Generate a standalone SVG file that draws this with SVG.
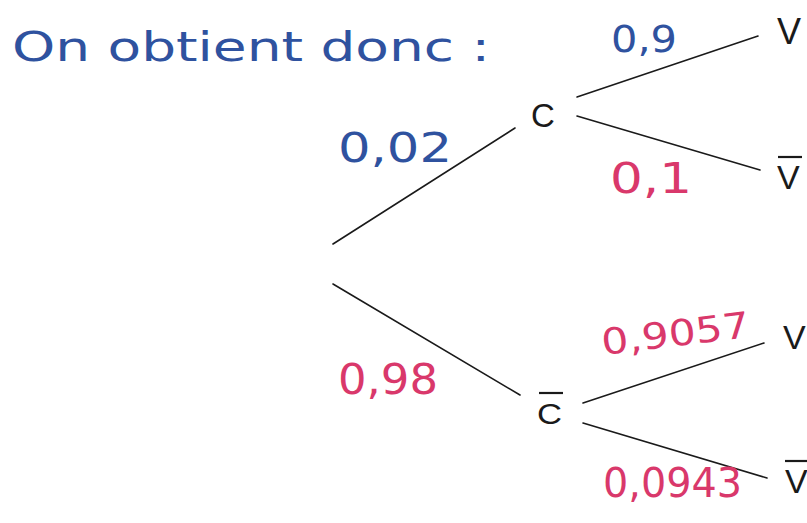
<svg xmlns="http://www.w3.org/2000/svg" width="807" height="523" viewBox="0 0 807 523">
<style>
.bg{fill:#ffffff}
.edge{stroke:#1a1a1a;stroke-width:1.6;fill:none;stroke-linecap:round}
.bar{stroke:#1a1a1a;stroke-width:2.2}
.node{font-family:"Liberation Sans",Arial,sans-serif;fill:#1a1a1a}
.hand{font-family:"DejaVu Sans","Liberation Sans",sans-serif;font-weight:normal}
.blue{fill:#2f529f}
.pink{fill:#d9386b}
</style>
<rect class="bg" x="0" y="0" width="807" height="523"/>
<text id="title" class="hand blue" x="12" y="61" font-size="40" textLength="478" lengthAdjust="spacingAndGlyphs">On obtient donc :</text>
<g id="connectors">
  <line class="edge" x1="333" y1="244" x2="515" y2="128"/>
  <line class="edge" x1="333" y1="284" x2="520" y2="395"/>
  <line class="edge" x1="577" y1="97" x2="758" y2="36"/>
  <line class="edge" x1="577" y1="116" x2="760" y2="170"/>
  <line class="edge" x1="583" y1="403" x2="764" y2="343"/>
  <line class="edge" x1="583" y1="423" x2="767" y2="478"/>
  <text class="hand blue" x="338" y="162" font-size="41" textLength="114" lengthAdjust="spacingAndGlyphs">0,02</text>
  <text class="hand blue" x="611" y="52" font-size="37" textLength="66" lengthAdjust="spacingAndGlyphs">0,9</text>
  <text class="hand pink" x="610" y="193" font-size="42" textLength="82" lengthAdjust="spacingAndGlyphs">0,1</text>
  <text class="hand pink" x="338" y="394" font-size="43" textLength="100" lengthAdjust="spacingAndGlyphs">0,98</text>
  <text class="hand pink" x="603" y="355" font-size="36" textLength="149" lengthAdjust="spacingAndGlyphs" transform="rotate(-7 603 355)">0,9057</text>
  <text class="hand pink" x="603" y="497" font-size="40" textLength="139" lengthAdjust="spacingAndGlyphs">0,0943</text>
</g>
<g id="node-C">
  <text class="node" x="531" y="127" font-size="33">C</text>
</g>
<g id="node-Cbar">
  <line class="bar" x1="539" y1="393" x2="563" y2="393"/>
  <text class="node" x="537" y="424" font-size="29" textLength="25" lengthAdjust="spacingAndGlyphs">C</text>
</g>
<g id="node-V1">
  <text class="node" x="777" y="44" font-size="36">V</text>
</g>
<g id="node-Vbar1">
  <line class="bar" x1="778" y1="157" x2="802" y2="157"/>
  <text class="node" x="777" y="189" font-size="34">V</text>
</g>
<g id="node-V2">
  <text class="node" x="783" y="349" font-size="34">V</text>
</g>
<g id="node-Vbar2">
  <line class="bar" x1="785" y1="461" x2="809" y2="461"/>
  <text class="node" x="785" y="493" font-size="34">V</text>
</g>
</svg>
